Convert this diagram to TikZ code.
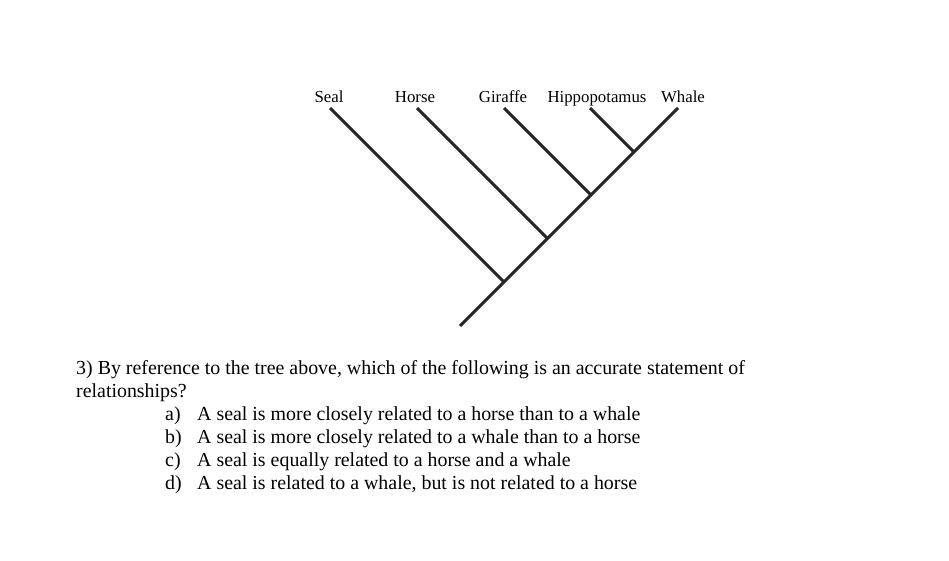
\documentclass[tikz,border=0pt]{standalone}
\usepackage{fontspec}
\setmainfont{Liberation Serif}
\begin{document}
\begin{tikzpicture}[x=1pt, y=-1pt,
    branch/.style={line width=3pt, black!85},
    taxon/.style={font=\fontsize{16.8}{18}\selectfont, anchor=base, inner sep=0pt},
    qtext/.style={font=\fontsize{19.9}{23}\selectfont, anchor=base west, inner sep=0pt}]
        % Sfondo
        \useasboundingbox[fill=white] (0,0) rectangle (949,561);

        % Punte dei rami e nodi interni
        \coordinate (root) at (460,326);
        \coordinate (tipseal) at (330,108);
        \coordinate (tiphorse) at (417,108);
        \coordinate (tipgiraffe) at (504,108);
        \coordinate (tiphippo) at (590,108);
        \coordinate (tipwhale) at (678,108);
        \coordinate (jseal) at (504,282);
        \coordinate (jhorse) at (547.5,238.5);
        \coordinate (jgiraffe) at (591,195);
        \coordinate (jhippo) at (634,152);

        % Nomi delle specie
        \node[taxon] (seal) at (329,103) {Seal};
        \node[taxon] (horse) at (415,103) {Horse};
        \node[taxon] (giraffe) at (503,103) {Giraffe};
        \node[taxon] (hippo) at (597,103) {Hippopotamus};
        \node[taxon] (whale) at (683,103) {Whale};

        % Tronco e rami
        \draw[branch] (root) -- (tipwhale);
        \draw[branch] (tipseal) -- (jseal);
        \draw[branch] (tiphorse) -- (jhorse);
        \draw[branch] (tipgiraffe) -- (jgiraffe);
        \draw[branch] (tiphippo) -- (jhippo);

        % Domanda
        \node[qtext] (q1) at (76,374) {3) By reference to the tree above, which of the following is an accurate statement of};
        \node[qtext] (q2) at (76,397) {relationships?};

        % Risposte
        \foreach \lab/\txt [count=\i] in {a/A seal is more closely related to a horse than to a whale,
            b/A seal is more closely related to a whale than to a horse,
            c/A seal is equally related to a horse and a whale,
            d/{A seal is related to a whale, but is not related to a horse}} {
            \node[qtext] (opt\lab) at (165,397+23*\i) {\lab)};
            \node[qtext] (ans\lab) at (197,397+23*\i) {\txt};
        }
    \end{tikzpicture}
\end{document}
